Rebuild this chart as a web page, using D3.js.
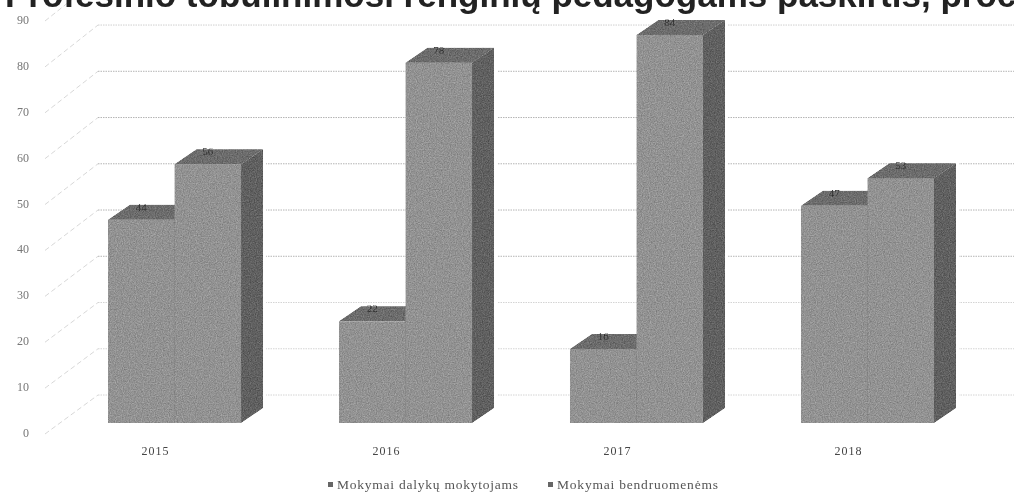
<!DOCTYPE html>
<html><head><meta charset="utf-8">
<script src="https://cdn.jsdelivr.net/npm/d3@7"></script>
<style>html,body{margin:0;padding:0;background:#fff;overflow:hidden}svg{display:block}</style>
</head><body><svg id="c" width="1014" height="492"></svg>
<script>
const titleText = "Profesinio tobulinimosi renginių pedagogams paskirtis, proc.";
const years = ["2015","2016","2017","2018"];
const seriesNames = ["Mokymai dalykų mokytojams","Mokymai bendruomenėms"];
const subjectTeachers = [44,22,16,47];
const communities = [56,78,84,53];
const axisTicks = [0,10,20,30,40,50,60,70,80,90];

const svg = d3.select("#c");
const defs = svg.append("defs");
defs.append("filter").attr("id","soft").attr("x","-2%").attr("y","-2%").attr("width","104%").attr("height","104%")
  .append("feGaussianBlur").attr("stdDeviation",0.45);
const grain = defs.append("filter").attr("id","grain").attr("filterUnits","userSpaceOnUse")
  .attr("x",0).attr("y",0).attr("width",1014).attr("height",492)
  .attr("color-interpolation-filters","sRGB");
grain.append("feTurbulence").attr("type","fractalNoise").attr("baseFrequency",0.85).attr("numOctaves",2).attr("seed",4).attr("result","n");
grain.append("feColorMatrix").attr("in","n").attr("type","matrix")
  .attr("values","1 0 0 0 0  1 0 0 0 0  1 0 0 0 0  0 0 0 0 1").attr("result","g");
grain.append("feComposite").attr("in","SourceGraphic").attr("in2","g").attr("operator","arithmetic")
  .attr("k1",0).attr("k2",1).attr("k3",0.28).attr("k4",-0.14).attr("result","m");
grain.append("feComposite").attr("in","m").attr("in2","SourceAlpha").attr("operator","in").attr("result","c");
grain.append("feGaussianBlur").attr("in","c").attr("stdDeviation",0.5);

const depthX = 22, depthY = 15;
const yBar = d3.scaleLinear().domain([0,90]).range([423,7.2]);
const yWall = d3.scaleLinear().domain([0,90]).range([395,-21.2]);
const yLabel = d3.scaleLinear().domain([0,90]).range([433,20]);
const x0 = d3.scaleBand().domain(years).range([108,934]).paddingInner(0.424).paddingOuter(0);
const x1 = d3.scaleBand().domain([0,1]).range([0,x0.bandwidth()]);
const poly = d3.line();

const root = svg.append("g").attr("filter","url(#soft)");

// grid walls
const grid = root.append("g");
grid.selectAll("line.w").data(axisTicks).join("line").attr("class","w")
  .attr("x1",98).attr("x2",1014).attr("y1",d=>yWall(d)).attr("y2",d=>yWall(d))
  .attr("stroke",d=>d===80?"#cfcfcf":(d<=20?"#d4d4d4":"#b4b4b4")).attr("stroke-width",1).attr("stroke-dasharray","1.5 1");
grid.selectAll("line.d").data(axisTicks).join("line").attr("class","d")
  .attr("x1",45).attr("x2",98).attr("y1",d=>yLabel(d)+1).attr("y2",d=>yWall(d))
  .attr("stroke","#cdcdcd").attr("stroke-width",0.8).attr("stroke-dasharray","5 3");

// axis labels
root.append("g").selectAll("text").data(axisTicks).join("text")
  .attr("x",29).attr("y",d=>yLabel(d)+4).attr("text-anchor","end")
  .attr("font-family","Liberation Serif").attr("font-size",12).attr("fill","#777")
  .text(d=>d);

// bars
const series = [subjectTeachers,communities];
years.forEach((yr,i)=>{
  const t2 = yBar(series[1][i]), r2 = x0(yr)+x0.bandwidth(), b0 = yBar(0);
  root.append("path").attr("fill","#fff").attr("stroke","#fff").attr("stroke-width",6)
    .attr("d",poly([[r2,t2],[r2+depthX,t2-depthY],[r2+depthX,b0-depthY],[r2,b0]])+"Z");
  const g = root.append("g").attr("filter","url(#grain)");
  series.forEach((vals,s)=>{
    const l = x0(yr)+x1(s), r = l+x1.bandwidth(), t = yBar(vals[i]), b = yBar(0);
    g.append("path").attr("fill","#6c6c6c")
      .attr("d",poly([[l,t],[l+depthX,t-depthY],[r+depthX,t-depthY],[r,t]])+"Z");
    g.append("path").attr("fill","#606060")
      .attr("d",poly([[r,t],[r+depthX,t-depthY],[r+depthX,b-depthY],[r,b]])+"Z");
    g.append("rect").attr("x",l).attr("y",t).attr("width",r-l).attr("height",b-t).attr("fill","#929292");
    g.append("text").attr("x",(l+r)/2).attr("y",t-9).attr("text-anchor","middle")
      .attr("font-family","Liberation Serif").attr("font-size",11).attr("fill","#333")
      .text(vals[i]);
  });
});

// category labels
root.append("g").selectAll("text").data(years).join("text")
  .attr("x",d=>x0(d)+x0.bandwidth()/2-19).attr("y",455).attr("text-anchor","middle")
  .attr("font-family","Liberation Serif").attr("font-size",12).attr("letter-spacing",1).attr("fill","#444")
  .text(d=>d);

// legend
const legendX = [337,557], legendW = [181,161];
seriesNames.forEach((n,i)=>{
  root.append("rect").attr("x",legendX[i]-9).attr("y",482).attr("width",5).attr("height",5).attr("fill","#666");
  root.append("text").attr("x",legendX[i]).attr("y",489)
    .attr("font-family","Liberation Serif").attr("font-size",13.5).attr("fill","#555")
    .attr("textLength",legendW[i]).attr("lengthAdjust","spacing").text(n);
});

// title
root.append("text").attr("x",5).attr("y",7)
  .attr("font-family","Liberation Sans").attr("font-weight","bold").attr("font-size",35).attr("fill","#222")
  .text(titleText);
</script></body></html>
